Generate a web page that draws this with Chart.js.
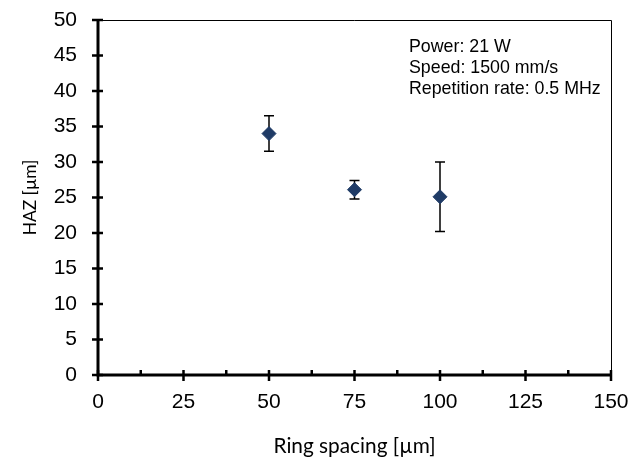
<!DOCTYPE html>
<html>
<head>
<meta charset="utf-8">
<script src="https://cdn.jsdelivr.net/npm/chart.js@4"></script>
<style>
  html, body { margin: 0; padding: 0; background: #fff; }
  #wrap { width: 633px; height: 459px; }
</style>
</head>
<body>
<div id="wrap"><canvas id="hazChart"></canvas></div>
<script>
const ringSpacing = [50, 75, 100];
const hazValues = [34, 26.1, 25.1];
const hazErrors = [2.5, 1.3, 4.9];
const noteLines = ['Power: 21 W', 'Speed: 1500 mm/s', 'Repetition rate: 0.5 MHz'];

const axisColor = '#000';

// draws error bars, crossing tick marks and the parameter note
const extras = {
    id: 'extras',
    beforeDatasetsDraw(chart) {
        const { ctx, scales: { x, y }, chartArea: a } = chart;
        ctx.save();
        // thin frame top/right
        ctx.strokeStyle = axisColor;
        ctx.lineWidth = 1;
        ctx.beginPath();
        ctx.moveTo(a.left, a.top + 0.5); ctx.lineTo(a.right + 0.5, a.top + 0.5);
        ctx.lineTo(a.right + 0.5, a.bottom);
        ctx.stroke();

        // error bars
        ctx.lineWidth = 1.5;
        ringSpacing.forEach((v, i) => {
            const px = x.getPixelForValue(v);
            const hi = y.getPixelForValue(hazValues[i] + hazErrors[i]);
            const lo = y.getPixelForValue(hazValues[i] - hazErrors[i]);
            ctx.beginPath();
            ctx.moveTo(px, hi); ctx.lineTo(px, lo);
            ctx.moveTo(px - 5, hi); ctx.lineTo(px + 5, hi);
            ctx.moveTo(px - 5, lo); ctx.lineTo(px + 5, lo);
            ctx.stroke();
        });

        // thick axes
        ctx.lineWidth = 3;
        ctx.beginPath();
        ctx.moveTo(a.left, a.top); ctx.lineTo(a.left, a.bottom);
        ctx.lineTo(a.right, a.bottom);
        ctx.stroke();

        // tick marks
        ctx.lineWidth = 2.5;
        ctx.beginPath();
        for (let v = 0; v <= 50; v += 5) {
            const py = y.getPixelForValue(v);
            ctx.moveTo(a.left - 6, py); ctx.lineTo(a.left + 5, py);
        }
        for (let v = 0; v <= 150; v += 12.5) {
            const px = x.getPixelForValue(v);
            if (v % 25 === 0) { ctx.moveTo(px, a.bottom - 5); ctx.lineTo(px, a.bottom + 6); }
            else { ctx.moveTo(px, a.bottom - 5); ctx.lineTo(px, a.bottom); }
        }
        ctx.stroke();

        // note
        ctx.fillStyle = '#000';
        ctx.font = '17.8px "Liberation Sans", Arial, sans-serif';
        ctx.textBaseline = 'middle';
        ctx.textAlign = 'left';
        noteLines.forEach((t, i) => ctx.fillText(t, 409, 47 + i * 21));
        ctx.restore();
    }
};

new Chart(document.getElementById('hazChart'), {
    type: 'scatter',
    data: {
        datasets: [{
            data: ringSpacing.map((v, i) => ({ x: v, y: hazValues[i] })),
            pointStyle: 'rectRot',
            pointRadius: 7,
            backgroundColor: '#1f3b66',
            borderColor: '#1f3b66',
            borderWidth: 1
        }]
    },
    options: {
        responsive: true,
        maintainAspectRatio: false,
        animation: false,
        layout: { padding: { top: 20, right: 22, left: 0, bottom: 0 } },
        plugins: { legend: { display: false }, tooltip: { enabled: false } },
        scales: {
            x: {
                type: 'linear', min: 0, max: 150,
                afterFit: s => { s.height = 84; s.paddingLeft = 0; s.paddingRight = 0; },
                border: { display: false },
                grid: { display: false },
                ticks: {
                    stepSize: 25, color: '#000', padding: 7,
                    font: { family: '"Liberation Sans", Arial, sans-serif', size: 21 }
                },
                title: {
                    display: true, text: 'Ring spacing [µm]', color: '#000',
                    font: { family: 'Lato, "Open Sans", sans-serif', size: 20.8 },
                    padding: { top: 10, bottom: 0 }
                }
            },
            y: {
                type: 'linear', min: 0, max: 50,
                afterFit: s => { s.width = 98; s.paddingTop = 0; s.paddingBottom = 0; },
                border: { display: false },
                grid: { display: false },
                ticks: {
                    stepSize: 5, color: '#000', padding: 13,
                    font: { family: '"Liberation Sans", Arial, sans-serif', size: 21 }
                },
                title: {
                    display: true, text: 'HAZ [µm]', color: '#000',
                    font: { family: 'Lato, "Open Sans", sans-serif', size: 17.4 },
                    padding: { top: 20, bottom: 0 }
                }
            }
        }
    },
    plugins: [extras]
});
</script>
</body>
</html>
